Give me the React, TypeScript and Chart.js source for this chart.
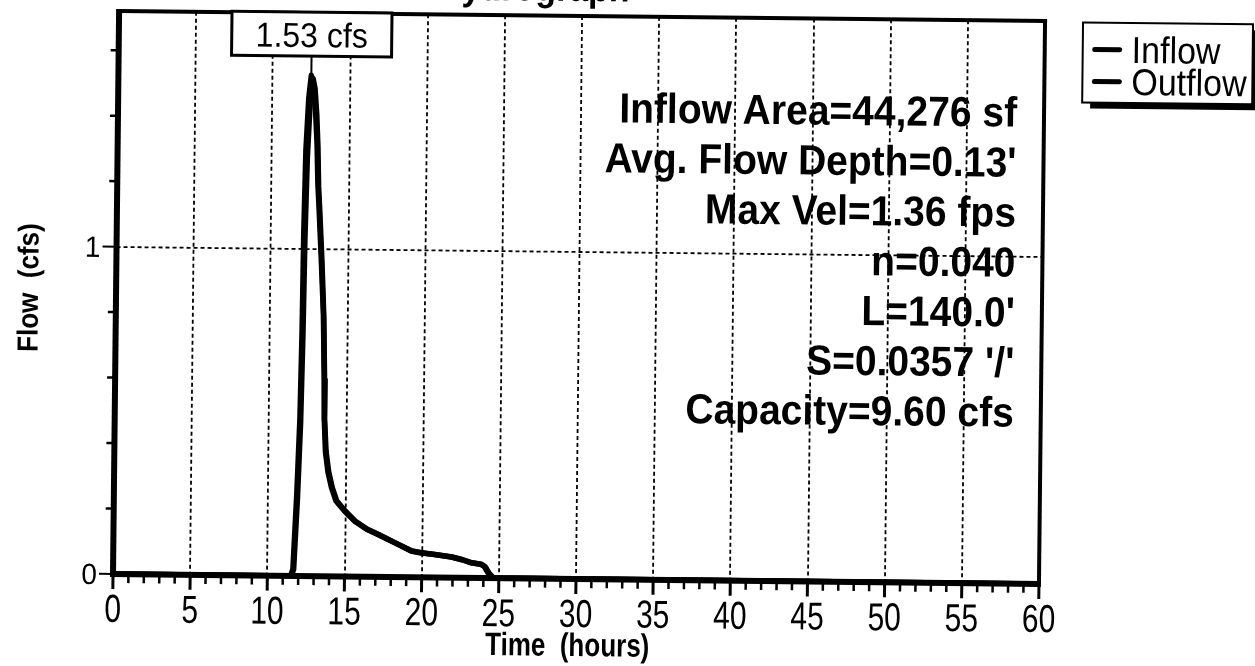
import React, { useEffect, useRef } from "react";
import { Chart, registerables } from "chart.js";

Chart.register(...registerables);

// ---------- data ----------
const SERIES_NAMES = ["Inflow", "Outflow"];

const INFLOW_HOURS = [0, 11.5, 11.65, 11.85, 12.0, 12.08, 12.12, 12.2, 12.35, 12.5, 12.65, 12.8, 12.92, 13.0, 13.1, 13.27, 13.45, 13.55, 13.58, 13.68, 13.85, 14.1, 14.4, 14.95, 15.6, 16.4, 17.1, 18.2, 19.3, 19.9, 20.8, 21.9, 22.6, 23.2, 23.8, 24.05, 24.3, 24.6, 60];
const INFLOW_CFS = [0, 0, 0.02, 0.25, 0.48, 0.75, 1.05, 1.3, 1.46, 1.53, 1.5, 1.42, 1.32, 1.2, 1.12, 0.97, 0.8, 0.6, 0.48, 0.38, 0.32, 0.27, 0.23, 0.2, 0.17, 0.145, 0.13, 0.105, 0.08, 0.075, 0.07, 0.063, 0.055, 0.046, 0.042, 0.035, 0.016, 0, 0];

const OUTFLOW_HOURS = [0, 11.55, 11.7, 11.9, 12.05, 12.14, 12.2, 12.3, 12.45, 12.62, 12.75, 12.88, 12.98, 13.05, 13.15, 13.32, 13.48, 13.57, 13.6, 13.72, 13.9, 14.15, 14.45, 15.0, 15.65, 16.45, 17.15, 18.25, 19.35, 19.95, 20.85, 21.95, 22.65, 23.25, 23.85, 24.1, 24.35, 24.65, 60];
const OUTFLOW_CFS = [0, 0, 0.02, 0.24, 0.47, 0.74, 1.03, 1.28, 1.45, 1.52, 1.49, 1.41, 1.31, 1.19, 1.11, 0.96, 0.79, 0.6, 0.48, 0.38, 0.32, 0.27, 0.23, 0.2, 0.17, 0.145, 0.13, 0.105, 0.08, 0.075, 0.07, 0.063, 0.055, 0.046, 0.042, 0.035, 0.016, 0, 0];

const X_TICKS = [0, 5, 10, 15, 20, 25, 30, 35, 40, 45, 50, 55, 60];
const Y_TICKS = [0, 1];
const X_MIN = 0;
const X_MAX = 60;
const Y_MIN = 0;
const Y_MAX = 1.72;
const X_MINOR_STEP = 1;
const Y_MINOR_STEP = 0.2;

const PEAK_HOUR = 12.5;
const PEAK_CFS = 1.53;
const PEAK_LABEL = "1.53 cfs";

const INFO_LINES = [
  "Inflow Area=44,276 sf",
  "Avg. Flow Depth=0.13'",
  "Max Vel=1.36 fps",
  "n=0.040",
  "L=140.0'",
  "S=0.0357 '/'",
  "Capacity=9.60 cfs",
];

const TITLE = "Hydrograph";
const X_TITLE = "Time  (hours)";
const Y_TITLE = "Flow  (cfs)";

// ---------- styling ----------
const FONT = '"Liberation Sans", Arial, Helvetica, sans-serif';
const ROT = (0.62 * Math.PI) / 180;
const ROT_CX = 580;
const ROT_CY = 300;
const W = 1255;
const H = 666;

function drawText(
  ctx: CanvasRenderingContext2D,
  text: string,
  x: number,
  y: number,
  font: string,
  align: CanvasTextAlign,
  sy = 1,
  sx = 1
) {
  ctx.save();
  ctx.translate(x, y);
  ctx.scale(sx, sy);
  ctx.font = font;
  ctx.textAlign = align;
  ctx.textBaseline = "alphabetic";
  ctx.fillStyle = "#000";
  ctx.fillText(text, 0, 0);
  ctx.restore();
}

function line(ctx: CanvasRenderingContext2D, x1: number, y1: number, x2: number, y2: number, w: number) {
  ctx.save();
  ctx.strokeStyle = "#000";
  ctx.lineWidth = w;
  ctx.beginPath();
  ctx.moveTo(x1, y1);
  ctx.lineTo(x2, y2);
  ctx.stroke();
  ctx.restore();
}

const scanPlugin = {
  id: "scanLook",
  beforeDraw(chart: any) {
    const ctx: CanvasRenderingContext2D = chart.ctx;
    ctx.save();
    ctx.fillStyle = "#fff";
    ctx.fillRect(0, 0, chart.width, chart.height);
    ctx.translate(ROT_CX, ROT_CY);
    ctx.rotate(ROT);
    ctx.translate(-ROT_CX, -ROT_CY);
  },
  beforeDatasetsDraw(chart: any) {
    const ctx: CanvasRenderingContext2D = chart.ctx;
    const { left, right, top, bottom } = chart.chartArea;
    const xs = chart.scales.x;
    const ys = chart.scales.y;
    ctx.save();
    ctx.strokeStyle = "#000";
    ctx.lineWidth = 1.8;
    ctx.setLineDash([4, 3]);
    for (const t of X_TICKS) {
      if (t === X_MIN || t === X_MAX) continue;
      const px = Math.round(xs.getPixelForValue(t));
      ctx.beginPath();
      ctx.moveTo(px, top);
      ctx.lineTo(px, bottom);
      ctx.stroke();
    }
    for (const t of Y_TICKS) {
      if (t === Y_MIN) continue;
      const py = Math.round(ys.getPixelForValue(t));
      ctx.beginPath();
      ctx.moveTo(left, py);
      ctx.lineTo(right, py);
      ctx.stroke();
    }
    ctx.restore();
  },
  afterDatasetsDraw(chart: any) {
    const ctx: CanvasRenderingContext2D = chart.ctx;
    const { left, right, top, bottom } = chart.chartArea;
    const xs = chart.scales.x;
    const ys = chart.scales.y;

    // frame
    line(ctx, left, top, right + 2, top, 4);
    line(ctx, right, top - 2, right, bottom, 4);
    line(ctx, left - 3, bottom, right + 2, bottom, 6);
    line(ctx, left, top - 2, left, bottom + 3, 6);

    // x ticks
    for (let v = X_MIN; v <= X_MAX + 1e-9; v += X_MINOR_STEP) {
      const px = xs.getPixelForValue(v);
      const major = X_TICKS.includes(Math.round(v));
      line(ctx, px, bottom, px, bottom + (major ? 15 : 9), major ? 3 : 2.5);
    }
    // y ticks
    const nMinor = Math.floor((Y_MAX - Y_MIN) / Y_MINOR_STEP + 1e-6);
    for (let i = 0; i <= nMinor; i++) {
      const v = Y_MIN + i * Y_MINOR_STEP;
      const py = ys.getPixelForValue(v);
      const major = Y_TICKS.some((t) => Math.abs(t - v) < 1e-6);
      line(ctx, left - (major ? 14 : 8), py, left, py, major ? 2 : 2.5);
    }

    // tick labels
    for (const t of X_TICKS) {
      drawText(ctx, String(t), xs.getPixelForValue(t), bottom + 48, `30px ${FONT}`, "center", 1.3);
    }
    for (const t of Y_TICKS) {
      drawText(ctx, String(t), left - 16, ys.getPixelForValue(t) + 10.5, `28px ${FONT}`, "right", 1.05);
    }

    // axis titles
    drawText(ctx, X_TITLE, (left + right) / 2 - 8, 656, `bold 26px ${FONT}`, "center", 1.25);
    ctx.save();
    ctx.translate(38, (top + bottom) / 2 - 4);
    ctx.rotate(-Math.PI / 2);
    drawText(ctx, Y_TITLE, 0, 0, `bold 26px ${FONT}`, "center", 1.12);
    ctx.restore();

    // info text block
    INFO_LINES.forEach((s, i) => {
      drawText(ctx, s, 1015, 122 + i * 50, `bold 39px ${FONT}`, "right", 1.08);
    });

    // peak label box
    const px = xs.getPixelForValue(PEAK_HOUR);
    const py = ys.getPixelForValue(PEAK_CFS);
    const bw = 160;
    const bh = 44;
    const bx = px - bw / 2;
    const by = top - 1;
    line(ctx, px, by + bh, px, py - 2, 2);
    ctx.save();
    ctx.fillStyle = "#fff";
    ctx.fillRect(bx, by, bw, bh);
    ctx.strokeStyle = "#000";
    ctx.lineWidth = 3;
    ctx.strokeRect(bx, by, bw, bh);
    ctx.restore();
    drawText(ctx, PEAK_LABEL, px, by + 35, `32px ${FONT}`, "center", 1.08);

    // legend
    const lx = 1080;
    const ly = 17;
    const lw = 170;
    const lh = 80;
    ctx.save();
    ctx.fillStyle = "#000";
    ctx.fillRect(lx + 8, ly + 6, lw, lh);
    ctx.fillStyle = "#fff";
    ctx.fillRect(lx, ly, lw, lh);
    ctx.strokeStyle = "#000";
    ctx.lineWidth = 2;
    ctx.strokeRect(lx, ly, lw, lh);
    ctx.restore();
    SERIES_NAMES.forEach((name, i) => {
      const cy = ly + 27 + i * 32;
      ctx.save();
      ctx.strokeStyle = "#000";
      ctx.lineWidth = 5;
      ctx.lineCap = "round";
      ctx.beginPath();
      ctx.moveTo(lx + 12, cy);
      ctx.lineTo(lx + 37, cy);
      ctx.stroke();
      ctx.restore();
      drawText(ctx, name, lx + 49, cy + 13, `34px ${FONT}`, "left", 1.1);
    });

    // title (cut by the top edge)
    drawText(ctx, TITLE, 530, 1, `bold 34px ${FONT}`, "center", 1.08);
  },
  afterDraw(chart: any) {
    chart.ctx.restore();
  },
};

export default function App() {
  const canvasRef = useRef<HTMLCanvasElement | null>(null);

  useEffect(() => {
    const canvas = canvasRef.current;
    if (!canvas) return;
    const toPoints = (xs: number[], ys: number[]) => xs.map((x, i) => ({ x, y: ys[i] }));
    const chart = new Chart(canvas, {
      type: "line",
      data: {
        datasets: [
          {
            label: SERIES_NAMES[0],
            data: toPoints(INFLOW_HOURS, INFLOW_CFS),
            borderColor: "#000",
            borderWidth: 5.5,
            pointRadius: 0,
            tension: 0,
            fill: false,
            borderJoinStyle: "round",
            borderCapStyle: "round",
          },
          {
            label: SERIES_NAMES[1],
            data: toPoints(OUTFLOW_HOURS, OUTFLOW_CFS),
            borderColor: "#000",
            borderWidth: 5.5,
            pointRadius: 0,
            tension: 0,
            fill: false,
            borderJoinStyle: "round",
            borderCapStyle: "round",
          },
        ],
      },
      options: {
        responsive: false,
        animation: false,
        devicePixelRatio: 1,
        layout: { padding: { left: 0, right: W - 1042, top: 16, bottom: 0 } },
        plugins: {
          legend: { display: false },
          tooltip: { enabled: false },
          title: { display: false },
        },
        scales: {
          x: {
            type: "linear",
            min: X_MIN,
            max: X_MAX,
            ticks: { display: false, stepSize: 5 },
            grid: { display: false },
            border: { display: false },
            afterFit: (s: any) => {
              s.height = H - 579;
            },
          },
          y: {
            type: "linear",
            min: Y_MIN,
            max: Y_MAX,
            ticks: { display: false, stepSize: 1 },
            grid: { display: false },
            border: { display: false },
            afterFit: (s: any) => {
              s.width = 116;
            },
          },
        },
      } as any,
      plugins: [scanPlugin as any],
    });
    return () => chart.destroy();
  }, []);

  return (
    <div style={{ position: "fixed", left: 0, top: 0, width: W, height: H, background: "#fff" }}>
      <canvas ref={canvasRef} width={W} height={H} style={{ display: "block", width: W, height: H }} />
    </div>
  );
}
